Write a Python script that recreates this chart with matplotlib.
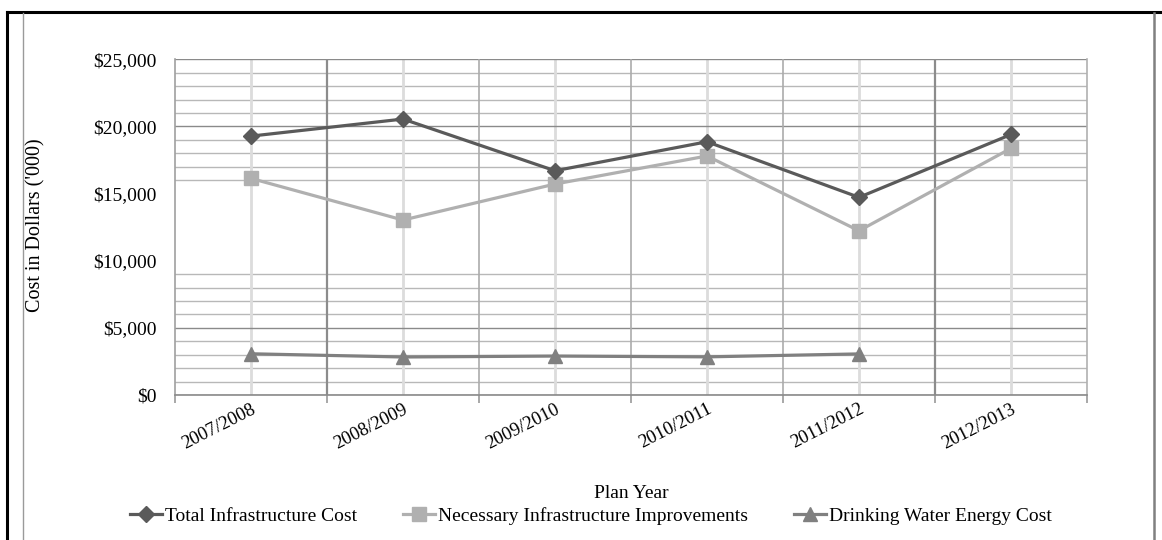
import matplotlib
matplotlib.use("Agg")
import matplotlib.pyplot as plt
from matplotlib.lines import Line2D
from matplotlib.ticker import FuncFormatter

plt.rcParams['font.family'] = ['Liberation Serif', 'DejaVu Serif']

# Plan years and costs (in thousands of dollars)
plan_years = ["2007/2008", "2008/2009", "2009/2010", "2010/2011", "2011/2012", "2012/2013"]
total_infrastructure = [19280, 20550, 16700, 18860, 14720, 19400]
necessary_improvements = [16130, 13030, 15710, 17800, 12230, 18370]
drinking_water_energy = [3070, 2830, 2900, 2840, 3060]

series_names = ["Total Infrastructure Cost",
                "Necessary Infrastructure Improvements",
                "Drinking Water Energy Cost"]

# Grid levels: darker rules and the lighter 1,000 steps
dark_levels = [0, 5000, 20000, 25000]
light_levels = [1000, 2000, 3000, 4000, 6000, 7000, 8000, 9000,
                16000, 17000, 18000, 19000, 21000, 22000, 23000, 24000]

fig = plt.figure(figsize=(11.62, 5.40), dpi=100)
ax = fig.add_axes([175 / 1162, 1 - 395 / 540, 912 / 1162, (395 - 59.3) / 540])

x = list(range(len(plan_years)))

ax.plot(x, total_infrastructure, color="#5a5a5a", lw=2.3, marker="D",
        markersize=8, label=series_names[0], zorder=4)
ax.plot(x, necessary_improvements, color="#b0b0b0", lw=2.3, marker="s",
        markersize=9.5, label=series_names[1], zorder=3)
ax.plot(x[:len(drinking_water_energy)], drinking_water_energy, color="#808080",
        lw=2.3, marker="^", markersize=10, label=series_names[2], zorder=3)

# Axis ranges
ax.set_xlim(-0.5, len(plan_years) - 0.5)
ax.set_ylim(0, 25000)

# Horizontal rules
for v in light_levels:
    ax.axhline(v, color="#b8b8b8", lw=1.0, zorder=0)
for v in dark_levels:
    ax.axhline(v, color="#8a8a8a", lw=1.0, zorder=0.5)

ax.set_yticks(range(0, 25001, 5000))
ax.yaxis.set_major_formatter(FuncFormatter(lambda v, p: f"${int(v):,}"))
ax.tick_params(axis="y", which="both", length=0, labelsize=14, pad=13)

# Vertical rules: light at each year, darker at the year boundaries
ax.set_xticks(x)
ax.set_xticklabels(plan_years, rotation=27, ha="right", va="top",
                   rotation_mode="anchor")
bounds = [i + 0.5 for i in range(-1, len(plan_years))]
ax.set_xticks(bounds, minor=True)
ax.tick_params(axis="x", which="major", length=0, labelsize=13.5, pad=4)
ax.tick_params(axis="x", which="minor", length=6, width=1.2, color="#9a9a9a",
               direction="out")
for c in x:
    ax.axvline(c, color="#dcdcdc", lw=2.0, zorder=0)
for b in bounds[1:-1]:
    dark = b in (0.5, 4.5)
    ax.axvline(b, color="#8c8c8c" if dark else "#ababab",
               lw=1.6 if dark else 1.2, zorder=0.6)

ax.spines["top"].set_visible(False)
ax.spines["right"].set_color("#b0b0b0")
ax.spines["right"].set_linewidth(1.2)
ax.spines["left"].set_color("#a0a0a0")
ax.spines["left"].set_linewidth(1.2)
ax.spines["bottom"].set_color("#8a8a8a")
ax.spines["bottom"].set_linewidth(1.2)

ax.set_ylabel("Cost in Dollars ('000)", fontsize=14.5)
ax.yaxis.set_label_coords(-0.142, 0.506)
ax.set_xlabel("Plan Year", fontsize=14)
ax.xaxis.set_label_coords(0.5, -0.268)

leg = fig.legend(loc="center", bbox_to_anchor=(591 / 1162, 1 - 516 / 540),
                 ncol=3, frameon=False, fontsize=14, handlelength=1.65,
                 handletextpad=0.15, columnspacing=2.35, borderaxespad=0)

# Page frame around the chart
fig.add_artist(Line2D([7 / 1162, 1.0], [1 - 12 / 540] * 2, color="black", lw=2.2,
                      transform=fig.transFigure))
fig.add_artist(Line2D([7 / 1162] * 2, [0, 1 - 12 / 540], color="black", lw=2.2,
                      transform=fig.transFigure))
fig.add_artist(Line2D([23 / 1162] * 2, [0, 1 - 13 / 540], color="#9a9a9a", lw=1.0,
                      transform=fig.transFigure))
fig.add_artist(Line2D([1154 / 1162] * 2, [0, 1 - 13 / 540], color="#808080", lw=1.8,
                      transform=fig.transFigure))

fig.savefig("out.png", dpi=100)
